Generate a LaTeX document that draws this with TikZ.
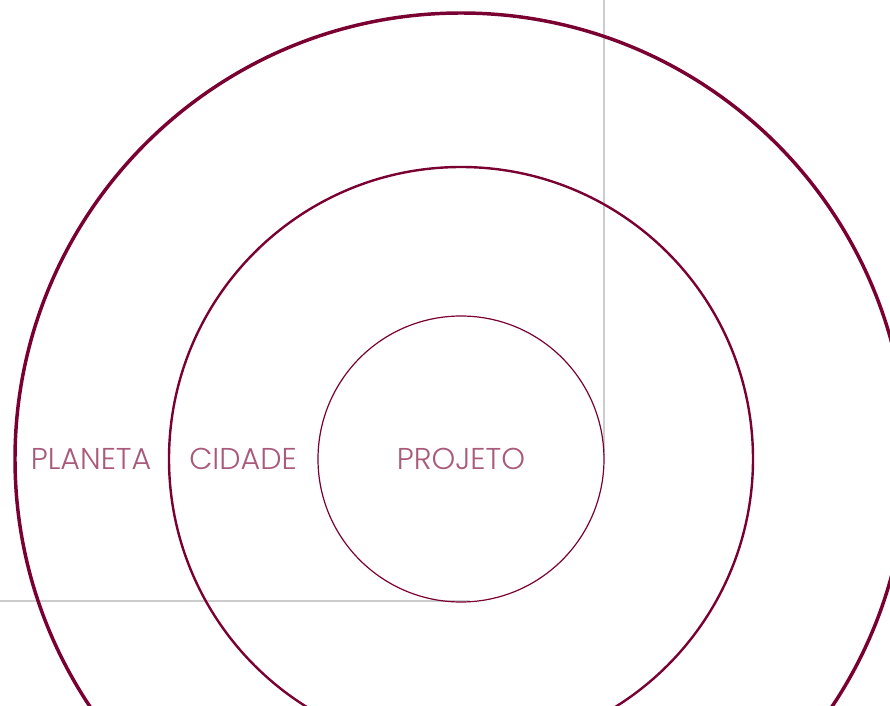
\documentclass[tikz,border=0pt]{standalone}
\usepackage{fontspec}
\setmainfont{Poppins}[UprightFont=* Light]
\usetikzlibrary{positioning}
\colorlet{background}{white}
\definecolor{penColor}{HTML}{7A0032}
\colorlet{penColor2}{penColor!65!white}
\colorlet{guideColor}{black!20}
\tikzset{ring/.style={draw=penColor},
         ringlabel/.style={text=penColor2, font=\fontsize{22.6}{24}\selectfont, inner sep=0pt}}

\begin{document}
\begin{tikzpicture}[x=0.75pt,y=-0.75pt]
        \useasboundingbox (0,0) rectangle (890,706);
        \clip (0,0) rectangle (890,706);
        \coordinate (O) at (461,459);
        \coordinate (topguide) at (604,0);
        \coordinate (endguide) at (604,455);
        \coordinate (leftguide) at (0,601);
        \coordinate (bottomguide) at (470,601);
         % guide lines
        \draw[guideColor, line width=1.5pt] (topguide) -- (endguide);
        \draw[guideColor, line width=1pt] (leftguide) -- (bottomguide);
         % rings
        \draw[ring, line width=2.6pt] (O) circle (446);
        \draw[ring, line width=1.8pt] (O) circle (292);
        \draw[ring, line width=0.9pt] (O) circle (143);
       \node [ringlabel] (planeta) at (91,459) {PLANETA};
        \node [ringlabel] (cidade) at (243,459) {CIDADE};
        \node [ringlabel] (projeto) at (O) {PROJETO};
      \end{tikzpicture}
\end{document}
